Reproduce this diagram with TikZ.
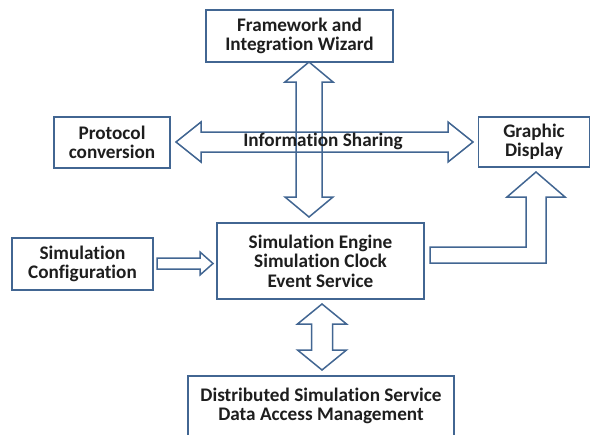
\documentclass[tikz,border=0pt]{standalone}
\usepackage{fontspec}
\setmainfont{Carlito}[Ligatures={NoCommon}]
\definecolor{bordc}{RGB}{66,102,146}
\definecolor{txtc}{RGB}{30,30,30}
\tikzset{
  boxnode/.style={draw=bordc, line width=1.6pt, fill=white, align=center,
    font=\fontsize{19.2}{19.5}\selectfont\bfseries, text=txtc, inner sep=0pt},
  blockarrow/.style={draw=bordc, line width=1.5pt, line join=miter}
}
\begin{document}
\begin{tikzpicture}[x=1pt,y=-1pt]
\useasboundingbox (0,0) rectangle (592,434);
\clip (0,0) rectangle (592,434);
% boxes
\node[boxnode, minimum width=187pt, minimum height=52pt] (fw) at (299.5,36) {Framework and\\Integration Wizard};
\node[boxnode, minimum width=116pt, minimum height=51pt] (pc) at (112,142.5) {Protocol\\conversion};
\node[boxnode, minimum width=111pt, minimum height=50pt] (gd) at (534,142) {Graphic\\Display};
\node[boxnode, minimum width=141pt, minimum height=52pt] (sc) at (82.5,264) {Simulation\\Configuration};
\node[boxnode, minimum width=207pt, minimum height=76pt] (se) at (320.5,261) {Simulation Engine\\Simulation Clock\\Event Service};
\node[boxnode, minimum width=266pt, minimum height=68pt, anchor=north] (ds) at (321,375) {};
\node[font=\fontsize{19.2}{19.5}\selectfont\bfseries, text=txtc, align=center] (dstext) at (321,406) {Distributed Simulation Service\\Data Access Management};
% horizontal double arrow (Information Sharing)
\draw[blockarrow] (176,142) -- (201,122) -- (201,132) -- (448,132) -- (448,122) -- (473,142)
  -- (448,162) -- (448,152) -- (201,152) -- (201,162) -- cycle;
% vertical double arrow (framework <-> engine)
\draw[blockarrow] (309,62) -- (333,82) -- (322,82) -- (322,197) -- (333,197) -- (309,217)
  -- (285,197) -- (296,197) -- (296,82) -- (285,82) -- cycle;
\node[font=\fontsize{19.2}{19.5}\selectfont\bfseries, text=txtc, inner sep=0pt] (info) at (323,141) {Information Sharing};
% config -> engine
\draw[blockarrow] (157,258) -- (200,258) -- (200,252) -- (213,263.5) -- (200,275) -- (200,269) -- (157,269) -- cycle;
% engine <-> distributed
\draw[blockarrow] (322,304) -- (346.5,324) -- (332.5,324) -- (332.5,350) -- (346.5,350) -- (322,370)
  -- (297.5,350) -- (311.5,350) -- (311.5,324) -- (297.5,324) -- cycle;
% elbow engine -> graphic display
\draw[blockarrow] (430,247) -- (526,247) -- (526,197) -- (507,197) -- (536,172) -- (565,197)
  -- (546,197) -- (546,263) -- (430,263) -- cycle;
\end{tikzpicture}
\end{document}
